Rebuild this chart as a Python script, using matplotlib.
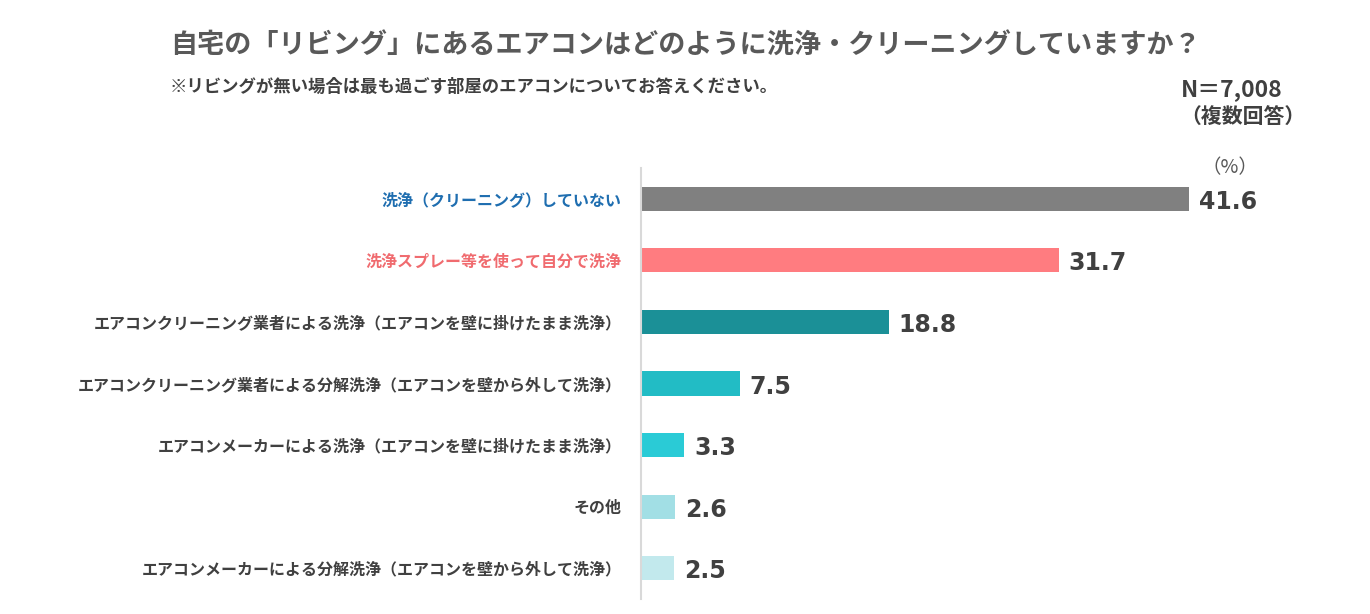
import matplotlib
matplotlib.use("Agg")
import matplotlib.pyplot as plt

plt.rcParams['font.family'] = ['Noto Sans CJK JP', 'DejaVu Sans']

# データ
categories = [
    "洗浄（クリーニング）していない",
    "洗浄スプレー等を使って自分で洗浄",
    "エアコンクリーニング業者による洗浄（エアコンを壁に掛けたまま洗浄）",
    "エアコンクリーニング業者による分解洗浄（エアコンを壁から外して洗浄）",
    "エアコンメーカーによる洗浄（エアコンを壁に掛けたまま洗浄）",
    "その他",
    "エアコンメーカーによる分解洗浄（エアコンを壁から外して洗浄）",
]
values = [41.6, 31.7, 18.8, 7.5, 3.3, 2.6, 2.5]
bar_colors = ["#808080", "#ff7c80", "#1b9097", "#22bcc5", "#2acbd6", "#a2dfe5", "#c2e9ed"]
label_colors = ["#1f6eb0", "#f06b6f", "#404040", "#404040", "#404040", "#404040", "#404040"]

W, H = 1370, 614
fig = plt.figure(figsize=(W / 100, H / 100), dpi=100)
fig.patch.set_facecolor("white")

# 軸の位置（ピクセル）
x0, x1 = 641, 1300
y_top, y_bot = 168, 599
ax = fig.add_axes([x0 / W, 1 - y_bot / H, (x1 - x0) / W, (y_bot - y_top) / H])

pos = list(range(len(values)))
ax.barh(pos, values, height=0.39, color=bar_colors)
ax.set_xlim(0, 50)
ax.set_ylim(6.5, -0.5)

for p, v in zip(pos, values):
    ax.text(v + 0.75, p + 0.05, f"{v:.1f}", va="center", ha="left",
            fontsize=17, fontweight="bold", color="#404040", family="DejaVu Sans")

ax.set_yticks(pos)
ax.set_yticklabels(categories, fontsize=11.5, fontweight="bold")
for t, c in zip(ax.get_yticklabels(), label_colors):
    t.set_color(c)
ax.tick_params(axis="y", length=0, pad=14)
ax.set_xticks([])
for s in ["top", "right", "bottom"]:
    ax.spines[s].set_visible(False)
ax.spines["left"].set_color("#d9d9d9")
ax.spines["left"].set_linewidth(1.5)

# タイトルなど
title = "自宅の「リビング」にあるエアコンはどのように洗浄・クリーニングしていますか？"
subtitle = "※リビングが無い場合は最も過ごす部屋のエアコンについてお答えください。"
fig.text(170 / W, 1 - 46 / H, title, fontsize=19.5, fontweight="bold",
         color="#595959", va="center", ha="left")
fig.text(170 / W, 1 - 87 / H, subtitle, fontsize=12.5, fontweight="bold",
         color="#404040", va="center", ha="left")
fig.text(1232 / W, 1 - 90 / H, "N＝7,008", fontsize=16.5, fontweight="bold",
         color="#404040", va="center", ha="center")
fig.text(1243 / W, 1 - 117 / H, "（複数回答）", fontsize=15, fontweight="bold",
         color="#404040", va="center", ha="center")
fig.text(1230 / W, 1 - 168 / H, "（%）", fontsize=14,
         color="#595959", va="center", ha="center")

fig.savefig("out.png", dpi=100)
